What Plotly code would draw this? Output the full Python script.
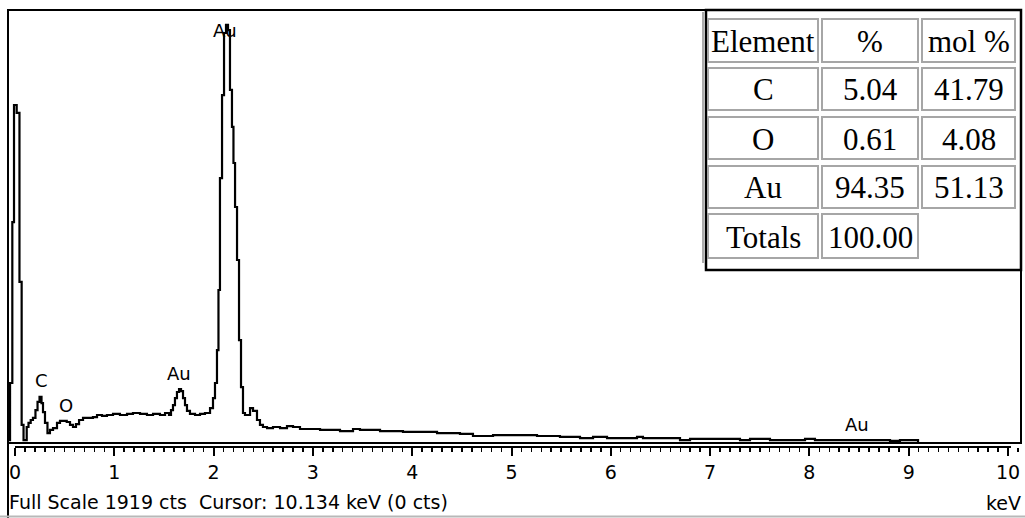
import plotly.graph_objects as go

# ---------------- data ----------------
energy_kev = [-0.070, -0.050, -0.027, -0.010, 0.017, 0.045, 0.067, 0.086, 0.118, 0.136,
              0.158, 0.181, 0.206, 0.227, 0.247, 0.267, 0.282, 0.302, 0.327, 0.352,
              0.383, 0.423, 0.453, 0.521, 0.554, 0.584, 0.614, 0.645, 0.685, 0.735,
              0.785, 0.826, 0.876, 0.926, 0.987, 1.057, 1.128, 1.188, 1.259, 1.329,
              1.390, 1.460, 1.511, 1.551, 1.571, 1.591, 1.611, 1.631, 1.652, 1.672,
              1.692, 1.712, 1.732, 1.762, 1.813, 1.863, 1.913, 1.964, 1.994, 2.014,
              2.034, 2.049, 2.064, 2.085, 2.105, 2.125, 2.145, 2.165, 2.185, 2.200,
              2.216, 2.236, 2.256, 2.276, 2.296, 2.316, 2.367, 2.397, 2.437, 2.467,
              2.497, 2.538, 2.598, 2.669, 2.739, 2.800, 2.870, 3.072, 3.273, 3.404,
              3.474, 3.676, 3.907, 4.250, 4.481, 4.612, 4.814, 5.257, 5.488, 5.690,
              5.821, 5.962, 6.264, 6.324, 6.697, 6.798, 7.100, 7.301, 7.402, 7.603,
              7.956, 8.056, 8.510, 8.812, 8.912, 9.094, 10.131]
counts = [13, 266, 979, 1498, 1463, 714, 80, 13, 71, 89,
          102, 111, 146, 182, 204, 177, 137, 89, 44, 58,
          66, 89, 98, 93, 80, 71, 84, 102, 111, 111,
          115, 124, 120, 124, 129, 124, 129, 133, 129, 124,
          129, 124, 133, 124, 146, 168, 199, 226, 239, 230,
          199, 168, 142, 129, 124, 129, 133, 155, 199, 266,
          412, 678, 1174, 1542, 1817, 1853, 1830, 1565, 1401, 1241,
          1046, 811, 456, 248, 133, 124, 155, 142, 102, 80,
          71, 66, 71, 66, 75, 71, 62, 58, 53, 62,
          58, 53, 49, 44, 40, 31, 35, 31, 27, 22,
          27, 22, 27, 22, 13, 18, 18, 13, 18, 13,
          18, 13, 13, 9, 13, 0, 0]

peak_labels = ["Au", "C", "O", "Au", "Au"]
peak_label_kev = [2.115, 0.262, 0.514, 1.652, 8.479]
peak_label_cts = [1826, 275, 168, 306, 80]

full_scale = 1919
status_text = "Full Scale 1919 cts \u00a0Cursor: 10.134 keV (0 cts)"
unit_text = "keV"

table_header = ["Element", "%", "mol %"]
table_element = ["C", "O", "Au", "Totals"]
table_wt = ["5.04", "0.61", "94.35", "100.00"]
table_mol = ["41.79", "4.08", "51.13", ""]

# ---------------- layout helpers ----------------
W, H = 1025, 518
def px(x):
    return x / W
def py(y):
    return 1 - y / H

PLOT_L, PLOT_R, PLOT_T, PLOT_B = 8, 1021, 10, 443
ZERO_PX, PX_PER_KEV = 15, 99.3
RULER_Y = 447

fig = go.Figure()
fig.add_trace(go.Scatter(
    x=energy_kev, y=counts, mode="lines",
    line=dict(shape="hv", color="black", width=2.2),
    hoverinfo="skip", showlegend=False,
))

x_range = [(PLOT_L - ZERO_PX) / PX_PER_KEV, (PLOT_R - ZERO_PX) / PX_PER_KEV]

sans = "DejaVu Sans"
fig.update_layout(
    width=W, height=H,
    margin=dict(l=0, r=0, t=0, b=0),
    paper_bgcolor="white", plot_bgcolor="white",
    showlegend=False,
    xaxis=dict(
        domain=[px(PLOT_L), px(PLOT_R)], range=x_range,
        anchor="free", position=py(RULER_Y), side="bottom",
        showline=False, showgrid=False, zeroline=False,
        ticks="outside", ticklen=8, tickwidth=2, tickcolor="black",
        tick0=0, dtick=1,
        minor=dict(dtick=0.1, tick0=0, ticks="outside", ticklen=4,
                   tickwidth=1.5, tickcolor="black", showgrid=False),
        tickfont=dict(family=sans, size=19, color="black"),
        ticklabelstandoff=0,
    ),
    yaxis=dict(
        domain=[py(PLOT_B), py(PLOT_T)], range=[0, full_scale],
        visible=False, anchor="x",
    ),
)

shapes = []
# plot frame
shapes.append(dict(type="rect", xref="paper", yref="paper",
                   x0=px(PLOT_L), x1=px(PLOT_R), y0=py(PLOT_B), y1=py(PLOT_T),
                   line=dict(color="black", width=2), layer="above"))
# left border extending to the bottom
shapes.append(dict(type="line", xref="paper", yref="paper",
                   x0=px(PLOT_L), x1=px(PLOT_L), y0=py(PLOT_B), y1=0,
                   line=dict(color="black", width=2)))
# bottom light border
shapes.append(dict(type="line", xref="paper", yref="paper",
                   x0=0, x1=1, y0=py(516.5), y1=py(516.5),
                   line=dict(color="#b8b8b8", width=2)))
# ruler line (0 .. 10 keV)
shapes.append(dict(type="line", xref="x", yref="paper",
                   x0=0, x1=10.03, y0=py(RULER_Y), y1=py(RULER_Y),
                   line=dict(color="black", width=2)))

# table
T_L, T_R, T_T, T_B = 706, 1021, 10, 270
shapes.append(dict(type="rect", xref="paper", yref="paper",
                   x0=px(T_L), x1=px(T_R), y0=py(T_B), y1=py(T_T),
                   fillcolor="white", line=dict(color="black", width=2.5), layer="above"))
shapes.append(dict(type="line", xref="paper", yref="paper",
                   x0=px(703), x1=px(703), y0=py(263), y1=py(12),
                   line=dict(color="#909090", width=1.5), layer="above"))
col_edges = [(708, 818), (822, 918), (922, 1015)]
row_edges = [(19, 62), (68, 110), (117, 159), (166, 208), (214, 258)]
rows = [table_header] + [[table_element[i], table_wt[i], table_mol[i]] for i in range(len(table_element))]
annotations = []
for r, (y0, y1) in enumerate(row_edges):
    for c, (x0, x1) in enumerate(col_edges):
        txt = rows[r][c]
        if txt == "" and r > 0:
            continue
        shapes.append(dict(type="rect", xref="paper", yref="paper",
                           x0=px(x0), x1=px(x1), y0=py(y1), y1=py(y0),
                           fillcolor="white", line=dict(color="#a6a6a6", width=2), layer="above"))
        annotations.append(dict(text=txt, xref="paper", yref="paper",
                                x=px((x0 + x1) / 2), y=py((y0 + y1) / 2 + 1),
                                xanchor="center", yanchor="middle", showarrow=False,
                                font=dict(family="Liberation Serif", size=31, color="black")))

# peak labels
for t, xk, yc in zip(peak_labels, peak_label_kev, peak_label_cts):
    annotations.append(dict(text=t, x=xk, y=yc, xref="x", yref="y",
                            showarrow=False, xanchor="center", yanchor="middle",
                            font=dict(family=sans, size=18, color="black")))

# status line and unit
annotations.append(dict(text=status_text, xref="paper", yref="paper",
                        x=px(7), y=py(502), xanchor="left", yanchor="middle",
                        showarrow=False, font=dict(family=sans, size=19, color="black")))
annotations.append(dict(text=unit_text, xref="paper", yref="paper",
                        x=px(1023), y=py(503), xanchor="right", yanchor="middle",
                        showarrow=False, font=dict(family=sans, size=19, color="black")))

fig.update_layout(shapes=shapes, annotations=annotations)
fig.write_html("out.html",
               config={"displayModeBar": False, "staticPlot": True},
               post_script="document.body.style.margin='0';document.body.style.overflow='hidden';")
